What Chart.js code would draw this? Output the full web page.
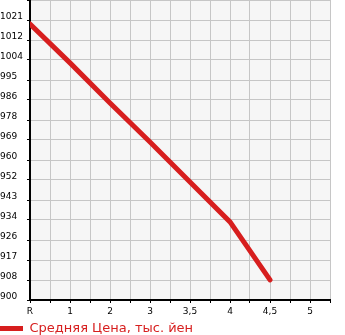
<!DOCTYPE html>
<html>
<head>
<meta charset="utf-8">
<script src="https://cdn.jsdelivr.net/npm/chart.js@4"></script>
<style>
  html, body { margin: 0; padding: 0; background: #fff; }
  #wrap { width: 345px; height: 335px; }
</style>
</head>
<body>
<div id="wrap"><canvas id="chartPrice"></canvas></div>
<script>
const xLabels = ["R", "1", "2", "3", "3,5", "4", "4,5", "5"];
const prices = [1019.8, 1002.9, 985.5, 968.6, 951.2, 933.9, 908.7];
const yLabels = ["900", "908", "917", "926", "934", "943", "952", "960", "969", "978", "986", "995", "1004", "1012", "1021", ""];
const seriesName = "Средняя Цена, тыс. йен";

const yMin = 900;
const yStep = 8.68;
const red = "#d71e1e";

const plotBg = {
    id: "plotBg",
    beforeDraw(chart) {
        const a = chart.chartArea;
        const ctx = chart.ctx;
        ctx.save();
        ctx.fillStyle = "#f6f6f6";
        ctx.fillRect(a.left, a.top, a.right - a.left, a.bottom - a.top);
        ctx.restore();
    }
};

document.addEventListener("DOMContentLoaded", function() {
    new Chart(document.getElementById("chartPrice"), {
        type: "line",
        data: {
            datasets: [{
                label: seriesName,
                data: prices.map((v, i) => ({ x: i, y: v })),
                borderColor: red,
                backgroundColor: red,
                borderWidth: 5,
                borderCapStyle: "round",
                pointRadius: 0,
                tension: 0
            }]
        },
        options: {
            responsive: true,
            maintainAspectRatio: false,
            animation: false,
            // legend box gets an extra 10px of height, let it hang off the bottom
            layout: { padding: { left: 0, right: 15, top: 0, bottom: -10 } },
            plugins: {
                tooltip: { enabled: false },
                legend: {
                    position: "bottom",
                    align: "start",
                    labels: {
                        usePointStyle: true,
                        pointStyle: "line",
                        pointStyleWidth: 23,
                        padding: 0,
                        color: red,
                        font: { family: "DejaVu Sans", size: 13, lineHeight: 1 },
                        generateLabels(chart) {
                            const items = Chart.defaults.plugins.legend.labels.generateLabels(chart);
                            items.forEach(it => { it.lineCap = "butt"; it.fontColor = red; });
                            return items;
                        }
                    }
                }
            },
            scales: {
                x: {
                    type: "linear",
                    min: 0,
                    max: 7.5,
                    border: { color: "#000", width: 2 },
                    grid: { color: "#c6c6c6", lineWidth: 1, tickColor: "#000", tickLength: 3 },
                    ticks: {
                        stepSize: 0.5,
                        autoSkip: false,
                        maxRotation: 0,
                        padding: 3,
                        color: "#000",
                        font: { family: "DejaVu Sans", size: 9 },
                        callback: v => Number.isInteger(v) && xLabels[v] !== undefined ? xLabels[v] : ""
                    },
                    afterFit(scale) {
                        scale.height = 22;
                        scale.paddingLeft = 0;
                        scale.paddingRight = 0;
                    }
                },
                y: {
                    min: yMin,
                    max: yMin + 15 * yStep,
                    border: { color: "#000", width: 2 },
                    grid: { color: "#c6c6c6", lineWidth: 1, tickColor: "#000", tickLength: 3 },
                    ticks: {
                        stepSize: yStep,
                        autoSkip: false,
                        crossAlign: "far",
                        labelOffset: -3.5,
                        color: "#000",
                        font: { family: "DejaVu Sans", size: 9 },
                        callback: (v, i) => yLabels[i] !== undefined ? yLabels[i] : ""
                    },
                    afterFit(scale) {
                        scale.width = 30;
                        scale.paddingTop = 0;
                        scale.paddingBottom = 0;
                    }
                }
            }
        },
        plugins: [plotBg]
    });
});
</script>
</body>
</html>
